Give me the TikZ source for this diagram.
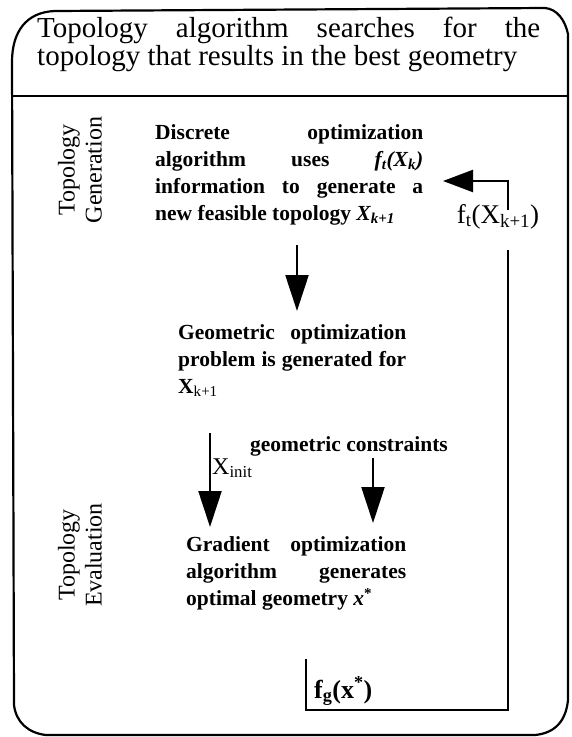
\documentclass[tikz,border=0pt]{standalone}
\usepackage{fontspec}
\setmainfont{Liberation Serif}
\usetikzlibrary{arrows.meta}
\begin{document}
\begin{tikzpicture}[x=1pt,y=-1pt,
  frame/.style={line width=2.2pt, line join=round},
  conn/.style={line width=2.2pt},
  arr/.style={line width=2.2pt,-{Triangle[length=36pt,width=23pt]}},
  fbarr/.style={line width=2.2pt,-{Triangle[length=30pt,width=22pt]}},
  body/.style={inner sep=0pt, anchor=north west, align=left, font=\fontsize{21.5}{27}\selectfont\bfseries},
  side/.style={inner sep=0pt, rotate=90, align=center, font=\fontsize{24}{27}\selectfont},
  lab/.style={inner sep=0pt, anchor=base west},
]
\useasboundingbox (0,0) rectangle (571,737);
% outer frame
\draw[frame] (12,62) .. controls (12,32) and (26,12) .. (55,11) -- (545,8)
  .. controls (557,9) and (565,20) .. (568,34) -- (568,700)
  .. controls (566,720) and (556,733) .. (535,735) -- (46,735)
  .. controls (28,733) and (16,722) .. (14,705) -- cycle;
\coordinate (sepl) at (12,96);
\coordinate (sepr) at (568,96);
\draw[frame] (sepl) -- (sepr);
% title
\node[inner sep=0pt, anchor=north west, align=left, font=\fontsize{29}{28.5}\selectfont] (title) at (37,16.5)
  {\makebox[503pt][s]{Topology algorithm searches for the}\\topology that results in the best geometry};
% side labels
\node[side] (gen) at (80,170) {Topology\\Generation};
\node[side] (eval) at (80,555) {Topology\\Evaluation};
% text blocks
\node[body] (d) at (155,124.5) {%
  \makebox[268pt][s]{Discrete optimization}\\
  \makebox[268pt][s]{algorithm uses \textit{f\textsubscript{t}(X\textsubscript{k})}}\\
  \makebox[268pt][s]{information to generate a}\\
  new feasible topology \textit{X\textsubscript{k+1}}};
\node[body] (g) at (178,324.5) {%
  \makebox[228pt][s]{Geometric optimization}\\
  \makebox[228pt][s]{problem is generated for}\\
  X\textsubscript{\mdseries k+1}};
\node[body] (r) at (186,536.5) {%
  \makebox[220pt][s]{Gradient optimization}\\
  \makebox[220pt][s]{algorithm generates}\\
  optimal geometry \textit{x}\textsuperscript{*}};
% labels
\node[lab, font=\fontsize{21.5}{24}\selectfont\bfseries] (gc) at (250,451) {geometric constraints};
\node[lab, font=\fontsize{24}{26}\selectfont] (xi) at (212,474) {X\textsubscript{init}};
\node[inner sep=0pt, anchor=base, font=\fontsize{27}{30}\selectfont] (ft) at (498,223) {f\textsubscript{t}(X\textsubscript{k+1})};
\node[lab, font=\fontsize{26}{28}\selectfont\bfseries] (fg) at (314,698) {f\textsubscript{g}(x\textsuperscript{*})};
% connector points
\coordinate (a1s) at (297,245);
\coordinate (a1e) at (297,311);
\coordinate (a2s) at (210,433);
\coordinate (a2e) at (210,527);
\coordinate (a3s) at (373,458);
\coordinate (a3e) at (373,523);
\coordinate (fgt) at (306,659);
\coordinate (fgc) at (306,710);
\coordinate (brc) at (508,710);
\coordinate (fbl) at (508,250);
\coordinate (fbh) at (508,210);
\coordinate (trc) at (508,181);
\coordinate (tip) at (443,181);
% connectors
\draw[arr] (a1s) -- (a1e);
\draw[arr] (a2s) -- (a2e);
\draw[arr] (a3s) -- (a3e);
\draw[conn] (fgt) -- (fgc) -- (brc) -- (fbl);
\draw[fbarr] (fbh) -- (trc) -- (tip);
\end{tikzpicture}
\end{document}
